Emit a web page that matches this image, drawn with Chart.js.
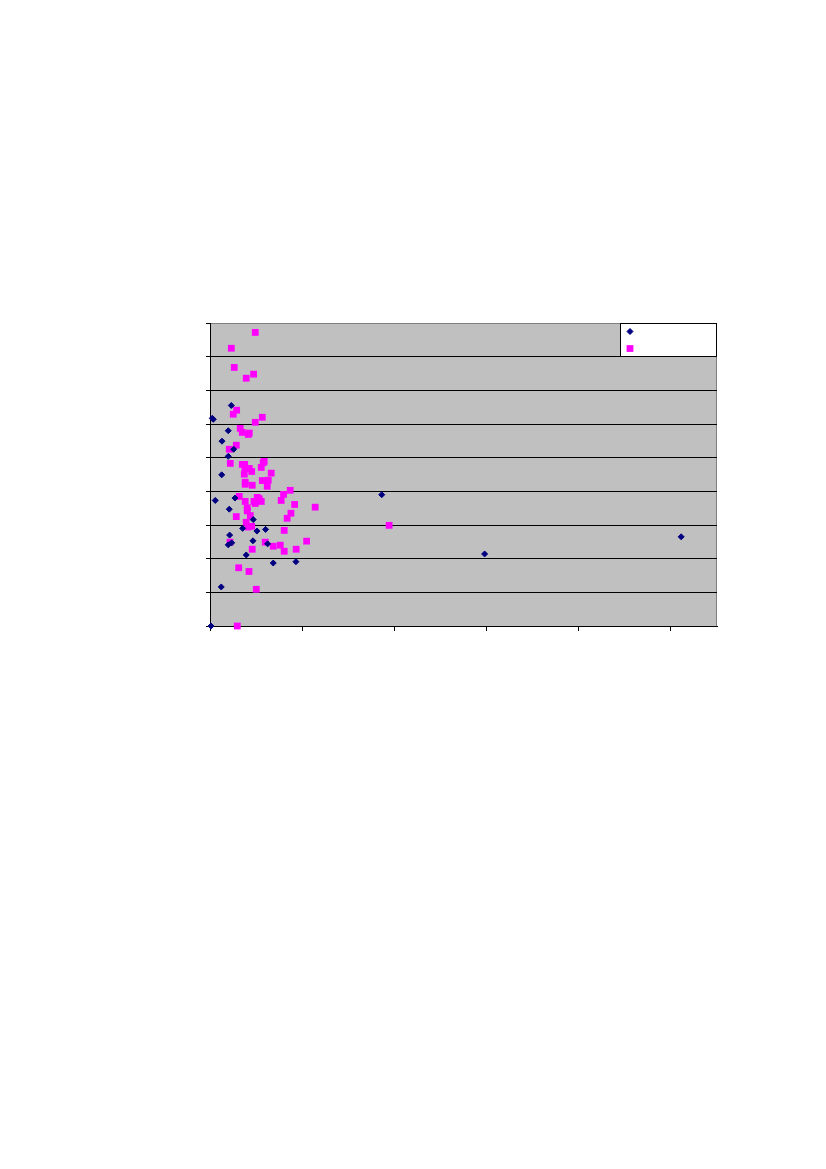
<!DOCTYPE html>
<html>
<head>
<meta charset="utf-8" />
<script src="https://cdn.jsdelivr.net/npm/chart.js@4/dist/chart.umd.min.js"></script>
<style>
  body { margin: 0; background: #ffffff; }
  canvas { display: block; }
</style>
</head>
<body>
<canvas id="scatterChart" width="826" height="1169"></canvas>
<script>
// series 1 (navy diamonds)
const seriesAX = [2.5, 3.6, 23.1, 19.8, 13.0, 25.7, 19.8, 12.7, 5.7, 27.1, 20.9, 46.9, 35.4, 50.9,
  60.3, 21.3, 19.8, 23.5, 46.6, 62.5, 39.3, 68.6, 93.2, 12.2, 1.1, 186.3, 297.9, 511.1];
const seriesAY = [61.7, 61.4, 65.5, 58.0, 54.9, 52.5, 50.4, 44.9, 37.3, 38.0, 34.7, 31.6, 29.0, 28.2,
  28.7, 27.0, 24.1, 24.7, 25.3, 24.4, 21.1, 18.7, 19.1, 11.6, 0, 39.0, 21.4, 26.5];

// series 2 (magenta squares)
const seriesBX = [49.1, 23.1, 26.3, 47.3, 39.3, 28.9, 25.2, 56.7, 49.1, 32.8, 35.0, 42.6, 41.5, 28.5,
  20.9, 22.0, 35.0, 37.6, 58.8, 57.7, 37.9, 42.6, 55.6, 45.2, 37.2, 66.4, 56.7, 38.2, 38.2, 63.2,
  45.8, 62.1, 87.0, 79.8, 31.7, 51.2, 53.4, 38.2, 47.7, 55.6, 49.1, 77.2, 91.8, 114.1, 40.4, 40.4,
  87.8, 28.5, 43.7, 83.7, 39.3, 41.2, 45.2, 80.5, 194.3, 21.7, 59.9, 45.8, 76.2, 68.6, 80.5, 93.5,
  104.8, 31.1, 42.3, 50.2, 29.6];
const seriesBY = [87.2, 82.5, 76.8, 74.8, 73.6, 64.1, 62.9, 62.0, 60.5, 58.7, 57.5, 57.3, 56.9, 53.7,
  52.5, 48.3, 48.0, 48.0, 48.9, 48.5, 46.8, 46.8, 47.1, 45.9, 45.1, 45.4, 43.2, 42.7, 42.1, 43.3,
  41.8, 41.5, 40.3, 39.1, 38.5, 38.2, 37.8, 37.0, 37.0, 37.0, 36.4, 37.3, 36.1, 35.3, 35.1, 34.2,
  33.5, 32.5, 32.8, 32.0, 30.8, 29.4, 29.6, 28.4, 29.9, 24.9, 24.9, 22.8, 24.0, 23.7, 22.2, 22.8,
  25.2, 17.3, 16.2, 10.9, 0];

// axis ranges
const xMin = 0, xMax = 550, xStep = 100;
const yMin = 0, yMax = 90, yStep = 10;

const toPoints = (xs, ys) => xs.map((x, i) => ({ x: x, y: ys[i] }));

// grey plot area with grey frame
const plotBackground = {
  id: "plotBackground",
  beforeDraw(chart) {
    const { ctx, chartArea } = chart;
    ctx.save();
    ctx.fillStyle = "#c0c0c0";
    ctx.fillRect(chartArea.left, chartArea.top, chartArea.width, chartArea.height);
    ctx.strokeStyle = "#808080";
    ctx.lineWidth = 1;
    ctx.strokeRect(chartArea.left + 0.5, chartArea.top + 0.5, chartArea.width - 1, chartArea.height);
    ctx.restore();
  },
};

// small legend box in the top right corner, markers only
const markerLegend = {
  id: "markerLegend",
  afterDatasetsDraw(chart) {
    const { ctx, chartArea } = chart;
    const boxW = 97, boxH = 34;
    const left = chartArea.right - boxW;
    const top = chartArea.top;
    ctx.save();
    ctx.fillStyle = "#ffffff";
    ctx.fillRect(left, top, boxW, boxH);
    ctx.strokeStyle = "#000000";
    ctx.lineWidth = 1;
    ctx.strokeRect(left + 0.5, top + 0.5, boxW - 1, boxH - 1);
    chart.data.datasets.forEach((ds, i) => {
      ctx.fillStyle = ds.backgroundColor;
      ctx.strokeStyle = ds.borderColor;
      ctx.lineWidth = ds.borderWidth;
      Chart.helpers.drawPoint(ctx, { pointStyle: ds.pointStyle, radius: ds.pointRadius, borderWidth: ds.borderWidth },
        left + 10, top + 8.5 + i * 17);
    });
    ctx.restore();
  },
};

new Chart(document.getElementById("scatterChart"), {
  type: "scatter",
  data: {
    datasets: [
      {
        label: "",
        data: toPoints(seriesAX, seriesAY),
        pointStyle: "rectRot",
        pointRadius: 3,
        pointHoverRadius: 3,
        backgroundColor: "#000080",
        borderColor: "#000080",
        borderWidth: 1,
        clip: false,
      },
      {
        label: "",
        data: toPoints(seriesBX, seriesBY),
        pointStyle: "rect",
        pointRadius: 4.8,
        pointHoverRadius: 4.8,
        backgroundColor: "#ff00ff",
        borderColor: "#ff00ff",
        borderWidth: 0,
        clip: false,
      },
    ],
  },
  options: {
    responsive: false,
    animation: false,
    layout: { padding: { left: 206, top: 323, right: 109, bottom: 538 } },
    plugins: {
      legend: { display: false },
      tooltip: { enabled: false },
    },
    scales: {
      x: {
        type: "linear",
        min: xMin,
        max: xMax,
        ticks: { display: false, stepSize: xStep, includeBounds: false },
        grid: { drawOnChartArea: false, color: "#000000", tickLength: 5, lineWidth: 1 },
        border: { color: "#000000", width: 1 },
      },
      y: {
        type: "linear",
        min: yMin,
        max: yMax,
        ticks: { display: false, stepSize: yStep },
        grid: {
          color: (ctx) => (ctx.tick && ctx.tick.value === yMax ? "#808080" : "#000000"),
          tickColor: "#000000",
          tickLength: 4,
          lineWidth: 1,
        },
        border: { color: "#000000", width: 1 },
      },
    },
  },
  plugins: [plotBackground, markerLegend],
});
</script>
</body>
</html>
